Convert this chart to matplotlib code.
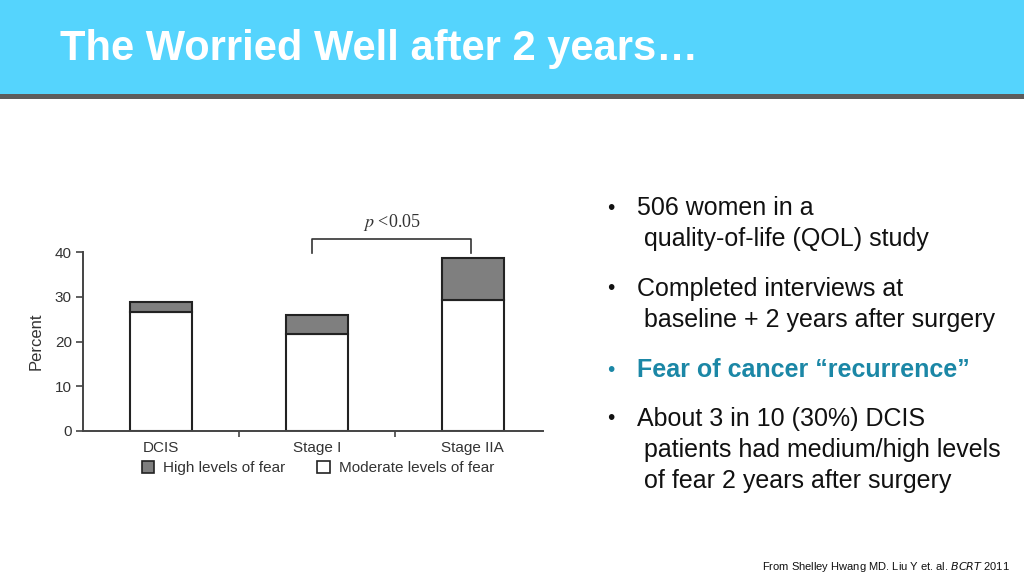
import matplotlib.pyplot as plt
from matplotlib.patches import Rectangle, Patch

categories = ["DCIS", "Stage I", "Stage IIA"]
moderate = [26.5, 21.6, 29.3]
high = [2.4, 4.4, 9.3]
y_ticks = [0, 10, 20, 30, 40]

bullets = [
    ("506 women in a\n quality-of-life (QOL) study", "#111111", "normal"),
    ("Completed interviews at\n baseline + 2 years after surgery", "#111111", "normal"),
    ("Fear of cancer \u201crecurrence\u201d", "#1b87a6", "bold"),
    ("About 3 in 10 (30%) DCIS\n patients had medium/high levels\n of fear 2 years after surgery",
     "#111111", "normal"),
]
bullet_y = [206, 287, 368, 417]

W, H = 1024, 576
SANS = ["Liberation Sans", "DejaVu Sans"]
fig = plt.figure(figsize=(10.24, 5.76), dpi=100)
fig.patch.set_facecolor("white")

# header band
fig.patches.append(Rectangle((0, 1 - 94 / H), 1, 94 / H, transform=fig.transFigure,
                             facecolor="#55d4fd", edgecolor="none", zorder=0))
fig.patches.append(Rectangle((0, 1 - 99 / H), 1, 5 / H, transform=fig.transFigure,
                             facecolor="#5c5c5c", edgecolor="none", zorder=0))
fig.text(60 / W, 1 - 49 / H, "The Worried Well after 2 years\u2026", color="white",
         fontsize=30, fontweight="bold", va="center", ha="left", family=SANS)

# chart
ax = fig.add_axes([83 / W, 1 - 431 / H, 460 / W, 179 / H])
x = list(range(len(categories)))
ax.bar(x, moderate, width=0.4, color="white", edgecolor="#222222", linewidth=1.5,
       label="Moderate levels of fear")
ax.bar(x, high, width=0.4, bottom=moderate, color="#7f7f7f", edgecolor="#222222",
       linewidth=1.5, label="High levels of fear")
ax.set_xlim(-0.5, 2.45)
ax.set_ylim(0, 40)
ax.set_yticks(y_ticks)
ax.set_xticks(x)
ax.set_xticklabels(categories)
ax.set_xticks([0.5, 1.5], minor=True)
ax.tick_params(axis="x", which="major", length=0, pad=7)
ax.tick_params(axis="x", which="minor", length=4, width=1.2, color="#444444", direction="out")
ax.tick_params(axis="y", length=5, width=1.2, color="#444444", pad=3)
for lab in ax.get_xticklabels() + ax.get_yticklabels():
    lab.set_fontsize(11)
    lab.set_color("#333333")
    lab.set_family(SANS)
for side in ["top", "right"]:
    ax.spines[side].set_visible(False)
for side in ["left", "bottom"]:
    ax.spines[side].set_color("#444444")
    ax.spines[side].set_linewidth(1.4)
ax.set_ylabel("Percent", fontsize=12, color="#333333", family=SANS, labelpad=8)

# significance bracket between Stage I and Stage IIA
ax.plot([0.97, 0.97, 1.99, 1.99], [39.8, 42.9, 42.9, 39.8], color="#333333", lw=1.2,
        clip_on=False)
ax.text(1.48, 46.5, "$p$ <0.05", ha="center", va="center", fontsize=13, color="#333333",
        family=["Liberation Serif", "DejaVu Serif"], math_fontfamily="stix")

handles = [Patch(facecolor="#7f7f7f", edgecolor="#222222", lw=1.2),
           Patch(facecolor="white", edgecolor="#222222", lw=1.2)]
fig.legend(handles, ["High levels of fear", "Moderate levels of fear"], ncol=2,
           loc="center left", bbox_to_anchor=(128 / W, 1 - 468 / H), frameon=False,
           handlelength=0.8, handleheight=0.8, handletextpad=0.6, columnspacing=2.1,
           prop={"family": SANS, "size": 11}, labelcolor="#333333")

# bullet list
for (txt, col, wt), yy in zip(bullets, bullet_y):
    fig.text(607 / W, 1 - (yy + 2) / H, "\u2022", color=col, fontsize=15, va="center",
             ha="left", family=SANS)
    fig.text(637 / W, 1 - (yy - 10) / H, txt, color=col, fontsize=18, fontweight=wt,
             va="top", ha="left", linespacing=1.38, family=SANS)

fig.text(1010 / W, 1 - 567 / H, "From Shelley Hwang MD. Liu Y et. al. $\\it{BCRT}$ 2011",
         ha="right", va="center", fontsize=8, color="#111111", family=SANS)

fig.savefig("out.png", dpi=100)
